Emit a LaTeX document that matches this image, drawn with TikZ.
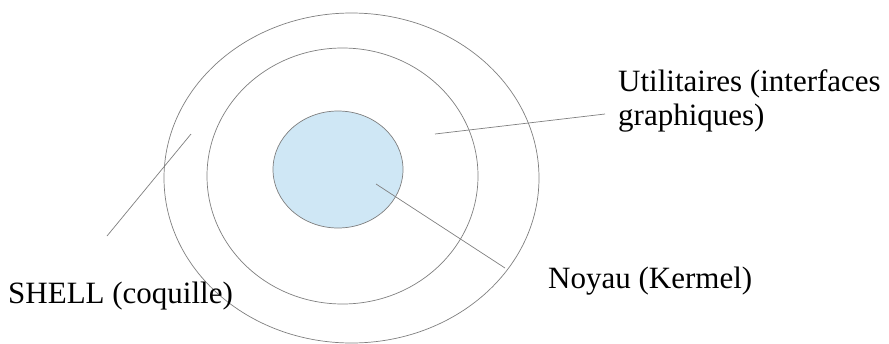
\documentclass[tikz,border=0pt]{standalone}
\usepackage{fontspec}
\setmainfont{Liberation Serif}
\usepackage{tikz}
\usetikzlibrary{shapes.geometric}
\definecolor{coreblue}{HTML}{CFE7F5}
\definecolor{rimgray}{HTML}{7F7F7F}

\begin{document}
\begin{tikzpicture}[x=1pt, y=-1pt,
        ring/.style={draw=rimgray, ellipse, inner sep=0pt, line width=0.7pt},
        lbl/.style={font=\fontsize{31}{34}\selectfont, inner sep=0pt, anchor=base west, align=left},
        lead/.style={draw=rimgray, line width=0.7pt}]
        \useasboundingbox (0,0) rectangle (889,343);
        \node (shell) [ring, minimum width=375pt, minimum height=330pt] at (351.5,178) {};
        \node (util) [ring, minimum width=271pt, minimum height=256pt] at (342.5,176) {};
        \node (core) [ring, fill=coreblue, minimum width=130pt, minimum height=117pt] at (338,169.5) {};
        \node (shelltxt) [lbl] at (8,303) {SHELL (coquille)};
        \node (utiltxt) [lbl] at (618,125) {Utilitaires (interfaces\\graphiques)};
        \node (coretxt) [lbl] at (548,288) {Noyau (Kermel)};
        \coordinate (shellin) at (191,134);
        \coordinate (shellout) at (107,236);
        \coordinate (utilin) at (435,134);
        \coordinate (utilout) at (605,114);
        \coordinate (corein) at (376,184);
        \coordinate (coreout) at (505,268);
        \draw [lead] (shellin) -- (shellout);
        \draw [lead] (utilin) -- (utilout);
        \draw [lead] (corein) -- (coreout);
    \end{tikzpicture}
\end{document}
